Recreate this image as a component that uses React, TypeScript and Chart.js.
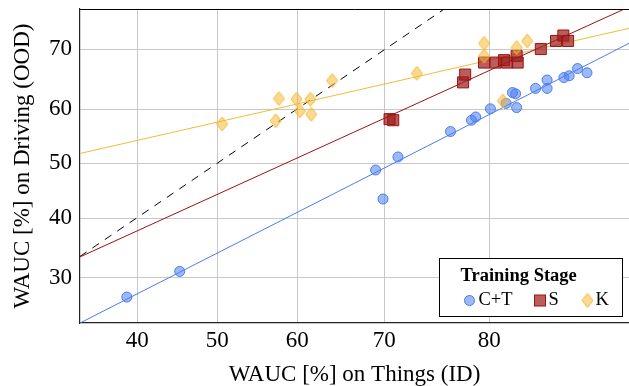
import React, { useEffect, useRef } from 'react';
import { Chart, registerables, LinearScale } from 'chart.js';

// ---------- data ----------
const ctX = [38.7, 45.3, 69.0, 69.85, 71.3, 76.3, 78.3, 78.7, 80.1, 81.6, 82.2, 82.5, 82.6, 84.4, 85.5, 85.5, 87.1, 87.6, 88.4, 89.3];
const ctY = [26.8, 31.1, 48.8, 43.5, 51.2, 55.9, 58.0, 58.6, 60.1, 61.0, 62.8, 62.6, 60.3, 63.5, 64.9, 63.5, 65.3, 65.6, 66.8, 66.1];

const sX = [70.5, 70.85, 77.5, 77.7, 79.5, 80.6, 81.4, 81.7, 82.6, 82.7, 84.9, 86.35, 87.05, 87.5];
const sY = [58.2, 58.0, 64.5, 65.8, 67.8, 67.8, 68.2, 67.8, 68.9, 67.8, 70.05, 71.4, 72.3, 71.4];

const kX = [50.6, 57.3, 57.7, 59.9, 60.3, 61.5, 61.6, 64.0, 73.1, 79.5, 79.5, 81.3, 82.6, 83.6];
const kY = [57.3, 57.9, 61.8, 61.7, 59.7, 61.7, 59.1, 64.8, 66.0, 71.0, 68.9, 61.4, 70.3, 71.4];

// regression lines (end points) and the diagonal reference
const ctFitX = [32.84, 93.3];
const ctFitY = [22.46, 71.0];
const sFitX = [32.84, 93.3];
const sFitY = [33.52, 77.07];
const kFitX = [32.84, 93.3];
const kFitY = [51.85, 73.5];
const diagX = [32.84, 75.7];
const diagY = [33.6, 76.7];

const xTicks = [40, 50, 60, 70, 80];
const yTicks = [30, 40, 50, 60, 70];

const seriesLabels = ['C+T', 'S', 'K'];
const legendTitle = 'Training Stage';
const xTitle = 'WAUC [%] on Things (ID)';
const yTitle = 'WAUC [%] on Driving (OOD)';

const X_MIN = 32.84, X_MAX = 93.3;
const Y_MIN = 22.46, Y_MAX = 76.72;

// ---------- axis geometry (relative spacing of the tick marks in the reference) ----------
type Warp = { fwd: (v: number) => number; inv: (p: number) => number };
function makeWarp(knots: number[], gaps: number[]): Warp {
  const pos = [0];
  for (let i = 0; i < gaps.length; i++) pos.push(pos[i] + gaps[i]);
  const n = knots.length;
  const s0 = gaps[0] / (knots[1] - knots[0]);
  const sN = gaps[gaps.length - 1] / (knots[n - 1] - knots[n - 2]);
  const fwd = (v: number) => {
    if (v <= knots[0]) return (v - knots[0]) * s0;
    if (v >= knots[n - 1]) return pos[n - 1] + (v - knots[n - 1]) * sN;
    for (let i = 0; i < n - 1; i++) {
      if (v <= knots[i + 1]) return pos[i] + ((v - knots[i]) / (knots[i + 1] - knots[i])) * gaps[i];
    }
    return pos[n - 1];
  };
  const inv = (p: number) => {
    if (p <= 0) return knots[0] + p / s0;
    if (p >= pos[n - 1]) return knots[n - 1] + (p - pos[n - 1]) / sN;
    for (let i = 0; i < n - 1; i++) {
      if (p <= pos[i + 1]) return knots[i] + ((p - pos[i]) / gaps[i]) * (knots[i + 1] - knots[i]);
    }
    return knots[n - 1];
  };
  return { fwd, inv };
}
const WARPS: Record<string, Warp> = {
  x: makeWarp(xTicks, [80, 80, 87, 105]),
  y: makeWarp(yTicks, [59.7, 54.7, 54, 60]),
};

class WarpScale extends LinearScale {
  static id = 'warp';
  static defaults = {};
  getPixelForValue(value: any) {
    if (value === null || value === undefined || isNaN(value)) return NaN;
    const w = WARPS[(this as any).id];
    const a = w.fwd((this as any).min), b = w.fwd((this as any).max);
    return (this as any).getPixelForDecimal((w.fwd(value) - a) / (b - a));
  }
  getValueForPixel(pixel: number) {
    const w = WARPS[(this as any).id];
    const a = w.fwd((this as any).min), b = w.fwd((this as any).max);
    return w.inv(a + (this as any).getDecimalForPixel(pixel) * (b - a));
  }
}

Chart.register(...registerables, WarpScale as any);

const FONT = "'Liberation Serif', 'Times New Roman', serif";
const BLUE = 'rgb(74,125,240)';
const RED = 'rgb(155,18,18)';
const YEL = 'rgb(246,186,52)';
const BLUE_FILL = 'rgba(74,125,240,0.55)';
const RED_FILL = 'rgba(160,30,30,0.72)';
const YEL_FILL = 'rgba(246,180,40,0.5)';

const pts = (xs: number[], ys: number[]) => xs.map((x, i) => ({ x, y: ys[i] }));

function makeDiamond(w: number, h: number, fill: string, stroke: string) {
  const c = document.createElement('canvas');
  c.width = w + 2;
  c.height = h + 2;
  const g = c.getContext('2d')!;
  const cx = c.width / 2, cy = c.height / 2;
  g.beginPath();
  g.moveTo(cx, cy - h / 2);
  g.lineTo(cx + w / 2, cy);
  g.lineTo(cx, cy + h / 2);
  g.lineTo(cx - w / 2, cy);
  g.closePath();
  g.fillStyle = fill;
  g.fill();
  g.lineWidth = 1;
  g.strokeStyle = stroke;
  g.stroke();
  return c;
}

export default function App() {
  const ref = useRef<HTMLCanvasElement>(null);

  useEffect(() => {
    const canvas = ref.current!;
    const diamond = makeDiamond(11, 14, YEL_FILL, YEL);

    const frame = {
      id: 'frameAndLegend',
      afterDraw(chart: any) {
        const { ctx, chartArea: a } = chart;
        ctx.save();
        // top frame line
        ctx.strokeStyle = '#000';
        ctx.lineWidth = 1;
        ctx.beginPath();
        ctx.moveTo(a.left, Math.round(a.top) + 0.5);
        ctx.lineTo(a.right, Math.round(a.top) + 0.5);
        ctx.stroke();

        // legend box
        const W = 183, H = 58;
        const x0 = Math.round(a.right - 7 - W) + 0.5;
        const y0 = Math.round(a.bottom - 7 - H) + 0.5;
        ctx.fillStyle = '#fff';
        ctx.fillRect(x0, y0, W, H);
        ctx.strokeStyle = '#000';
        ctx.lineWidth = 1;
        ctx.strokeRect(x0, y0, W, H);

        ctx.fillStyle = '#000';
        ctx.textBaseline = 'middle';
        ctx.textAlign = 'left';
        ctx.font = `bold 18.5px ${FONT}`;
        ctx.fillText(legendTitle, x0 + 21, y0 + 18);

        const rowY = y0 + 42;
        ctx.font = `18.5px ${FONT}`;
        // C+T
        ctx.beginPath();
        ctx.arc(x0 + 30, rowY, 5, 0, Math.PI * 2);
        ctx.fillStyle = BLUE_FILL;
        ctx.fill();
        ctx.strokeStyle = BLUE;
        ctx.stroke();
        ctx.fillStyle = '#000';
        ctx.fillText(seriesLabels[0], x0 + 39, rowY);
        // S
        ctx.fillStyle = RED_FILL;
        ctx.fillRect(x0 + 95, rowY - 5.5, 11, 11);
        ctx.strokeStyle = RED;
        ctx.strokeRect(x0 + 95, rowY - 5.5, 11, 11);
        ctx.fillStyle = '#000';
        ctx.fillText(seriesLabels[1], x0 + 109, rowY);
        // K
        ctx.drawImage(diamond, x0 + 148 - diamond.width / 2, rowY - diamond.height / 2);
        ctx.fillStyle = '#000';
        ctx.fillText(seriesLabels[2], x0 + 156, rowY);
        ctx.restore();
      },
    };

    const lineDs = (label: string, xs: number[], ys: number[], color: string, dash: number[] = []) => ({
      label,
      data: pts(xs, ys),
      showLine: true,
      borderColor: color,
      borderWidth: 1,
      borderDash: dash,
      pointRadius: 0,
      fill: false,
      order: 10,
    });

    const tickFont = { family: FONT, size: 23 };

    const chart = new Chart(canvas, {
      type: 'scatter',
      data: {
        datasets: [
          lineDs('fitCT', ctFitX, ctFitY, BLUE),
          lineDs('fitS', sFitX, sFitY, RED),
          lineDs('fitK', kFitX, kFitY, YEL),
          lineDs('diag', diagX, diagY, '#000', [8, 7]),
          {
            label: seriesLabels[0],
            data: pts(ctX, ctY),
            pointStyle: 'circle',
            pointRadius: 5,
            backgroundColor: BLUE_FILL,
            borderColor: BLUE,
            borderWidth: 1,
            order: 3,
          },
          {
            label: seriesLabels[1],
            data: pts(sX, sY),
            pointStyle: 'rect',
            pointRadius: 7.8,
            backgroundColor: RED_FILL,
            borderColor: RED,
            borderWidth: 1,
            order: 2,
          },
          {
            label: seriesLabels[2],
            data: pts(kX, kY),
            pointStyle: diamond as any,
            pointRadius: 7,
            backgroundColor: YEL_FILL,
            borderColor: YEL,
            order: 1,
          },
        ] as any,
      },
      options: {
        animation: false,
        responsive: false,
        devicePixelRatio: 1,
        events: [],
        layout: { autoPadding: false, padding: { top: 9, left: 0, right: 0, bottom: 0 } },
        plugins: { legend: { display: false }, tooltip: { enabled: false } },
        scales: {
          x: {
            type: 'warp' as any,
            position: 'bottom',
            min: X_MIN,
            max: X_MAX,
            afterBuildTicks: (s: any) => {
              s.ticks = xTicks.map((v) => ({ value: v }));
            },
            afterFit: (s: any) => {
              s.height = 63;
              s.paddingLeft = 0;
              s.paddingRight = 0;
            },
            grid: { color: '#c8c8c8', lineWidth: 1, drawTicks: false },
            border: { color: '#222', width: 1.2 },
            ticks: {
              font: tickFont,
              color: '#000',
              padding: 4,
              maxRotation: 0,
              autoSkip: false,
              callback: (v: any) => String(v),
            },
            title: {
              display: true,
              text: xTitle,
              color: '#000',
              font: { family: FONT, size: 23, lineHeight: 1 },
              padding: 0,
            },
          },
          y: {
            type: 'warp' as any,
            position: 'left',
            min: Y_MIN,
            max: Y_MAX,
            afterBuildTicks: (s: any) => {
              s.ticks = yTicks.map((v) => ({ value: v }));
            },
            afterFit: (s: any) => {
              s.width = 80;
              s.paddingTop = 0;
              s.paddingBottom = 0;
            },
            grid: { color: '#c8c8c8', lineWidth: 1, drawTicks: false },
            border: { color: '#222', width: 1.2 },
            ticks: {
              font: tickFont,
              color: '#000',
              padding: 8,
              autoSkip: false,
              callback: (v: any) => String(v),
            },
            title: {
              display: true,
              text: yTitle,
              color: '#000',
              font: { family: FONT, size: 23, lineHeight: 1 },
              padding: { top: 11.5, bottom: 0 },
            },
          },
        },
      } as any,
      plugins: [frame],
    });

    return () => chart.destroy();
  }, []);

  return (
    <div style={{ position: 'absolute', left: 0, top: 0, width: 629, height: 386, background: '#fff' }}>
      <canvas ref={ref} width={629} height={386} style={{ width: 629, height: 386, display: 'block' }} />
    </div>
  );
}
